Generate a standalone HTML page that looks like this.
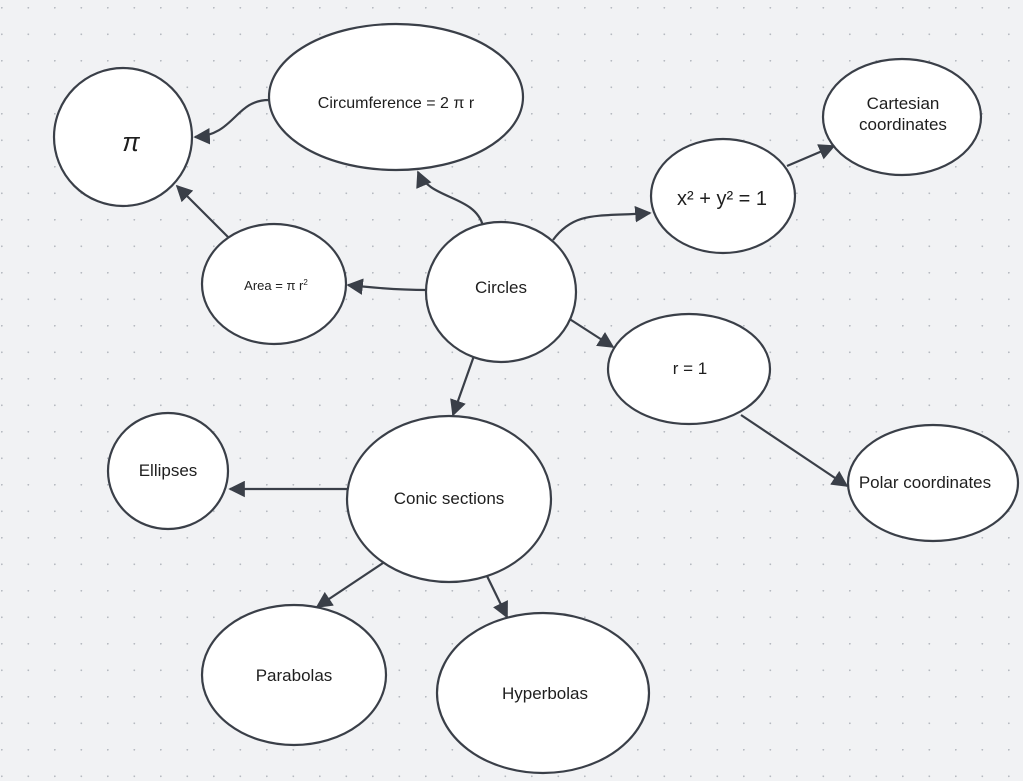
<!DOCTYPE html>
<html><head><meta charset="utf-8"><style>
html,body{margin:0;padding:0;background:#f1f2f4;}
svg{display:block;}
text{font-family:"Liberation Sans",sans-serif;fill:#1e1e1e;}
</style></head><body>
<svg width="1023" height="781" viewBox="0 0 1023 781" xmlns="http://www.w3.org/2000/svg">
<defs>
<pattern id="d" x="1" y="7" width="26.5" height="26.5" patternUnits="userSpaceOnUse">
<circle cx="0.8" cy="0.8" r="0.9" fill="#b5b9c0"/>
</pattern>
<marker id="a" viewBox="0 0 10 10" refX="9" refY="5" markerWidth="7.5" markerHeight="7.5" orient="auto-start-reverse" markerUnits="strokeWidth">
<path d="M0,0 L10,5 L0,10 z" fill="#3a3f48"/>
</marker>
</defs>
<rect width="1023" height="781" fill="#f1f2f4"/>
<rect width="1023" height="781" fill="url(#d)"/>
<g stroke="#3a3f48" stroke-width="2.2" fill="none" marker-end="url(#a)">
<path d="M269,100 C235,100 235,135 195,137"/>
<path d="M228,237 L177,186"/>
<path d="M483,226 C475,195 430,200 418,172"/>
<path d="M427,290 C400,290 375,288 348,285"/>
<path d="M553,240 C575,210 600,217 650,213"/>
<path d="M787,166 L834,146"/>
<path d="M568,318 L613,347"/>
<path d="M741,415 L847,486"/>
<path d="M475,353 L453,415"/>
<path d="M348,489 L230,489"/>
<path d="M383,563 L317,607"/>
<path d="M487,576 L507,617"/>
</g>
<g stroke="#3a3f48" stroke-width="2.2" fill="#fff">
<ellipse cx="123" cy="137" rx="69" ry="69"/>
<ellipse cx="396" cy="97" rx="127" ry="73"/>
<ellipse cx="902" cy="117" rx="79" ry="58"/>
<ellipse cx="723" cy="196" rx="72" ry="57"/>
<ellipse cx="274" cy="284" rx="72" ry="60"/>
<ellipse cx="501" cy="292" rx="75" ry="70"/>
<ellipse cx="689" cy="369" rx="81" ry="55"/>
<ellipse cx="933" cy="483" rx="85" ry="58"/>
<ellipse cx="168" cy="471" rx="60" ry="58"/>
<ellipse cx="449" cy="499" rx="102" ry="83"/>
<ellipse cx="294" cy="675" rx="92" ry="70"/>
<ellipse cx="543" cy="693" rx="106" ry="80"/>
</g>
<g font-size="17" text-anchor="middle">
<text x="131" y="151" font-family="Liberation Serif,serif" font-style="italic" font-size="26">π</text>
<text x="396" y="108" font-size="16">Circumference = 2 π r</text>
<text x="903" y="109">Cartesian</text>
<text x="903" y="130">coordinates</text>
<text x="722" y="205" font-size="20">x² + y² = 1</text>
<text x="276" y="290" font-size="13">Area = π r<tspan font-size="8" dy="-5">2</tspan></text>
<text x="501" y="293">Circles</text>
<text x="690" y="374">r = 1</text>
<text x="925" y="488">Polar coordinates</text>
<text x="168" y="476">Ellipses</text>
<text x="449" y="504">Conic sections</text>
<text x="294" y="681">Parabolas</text>
<text x="545" y="699">Hyperbolas</text>
</g>
</svg>
</body></html>
